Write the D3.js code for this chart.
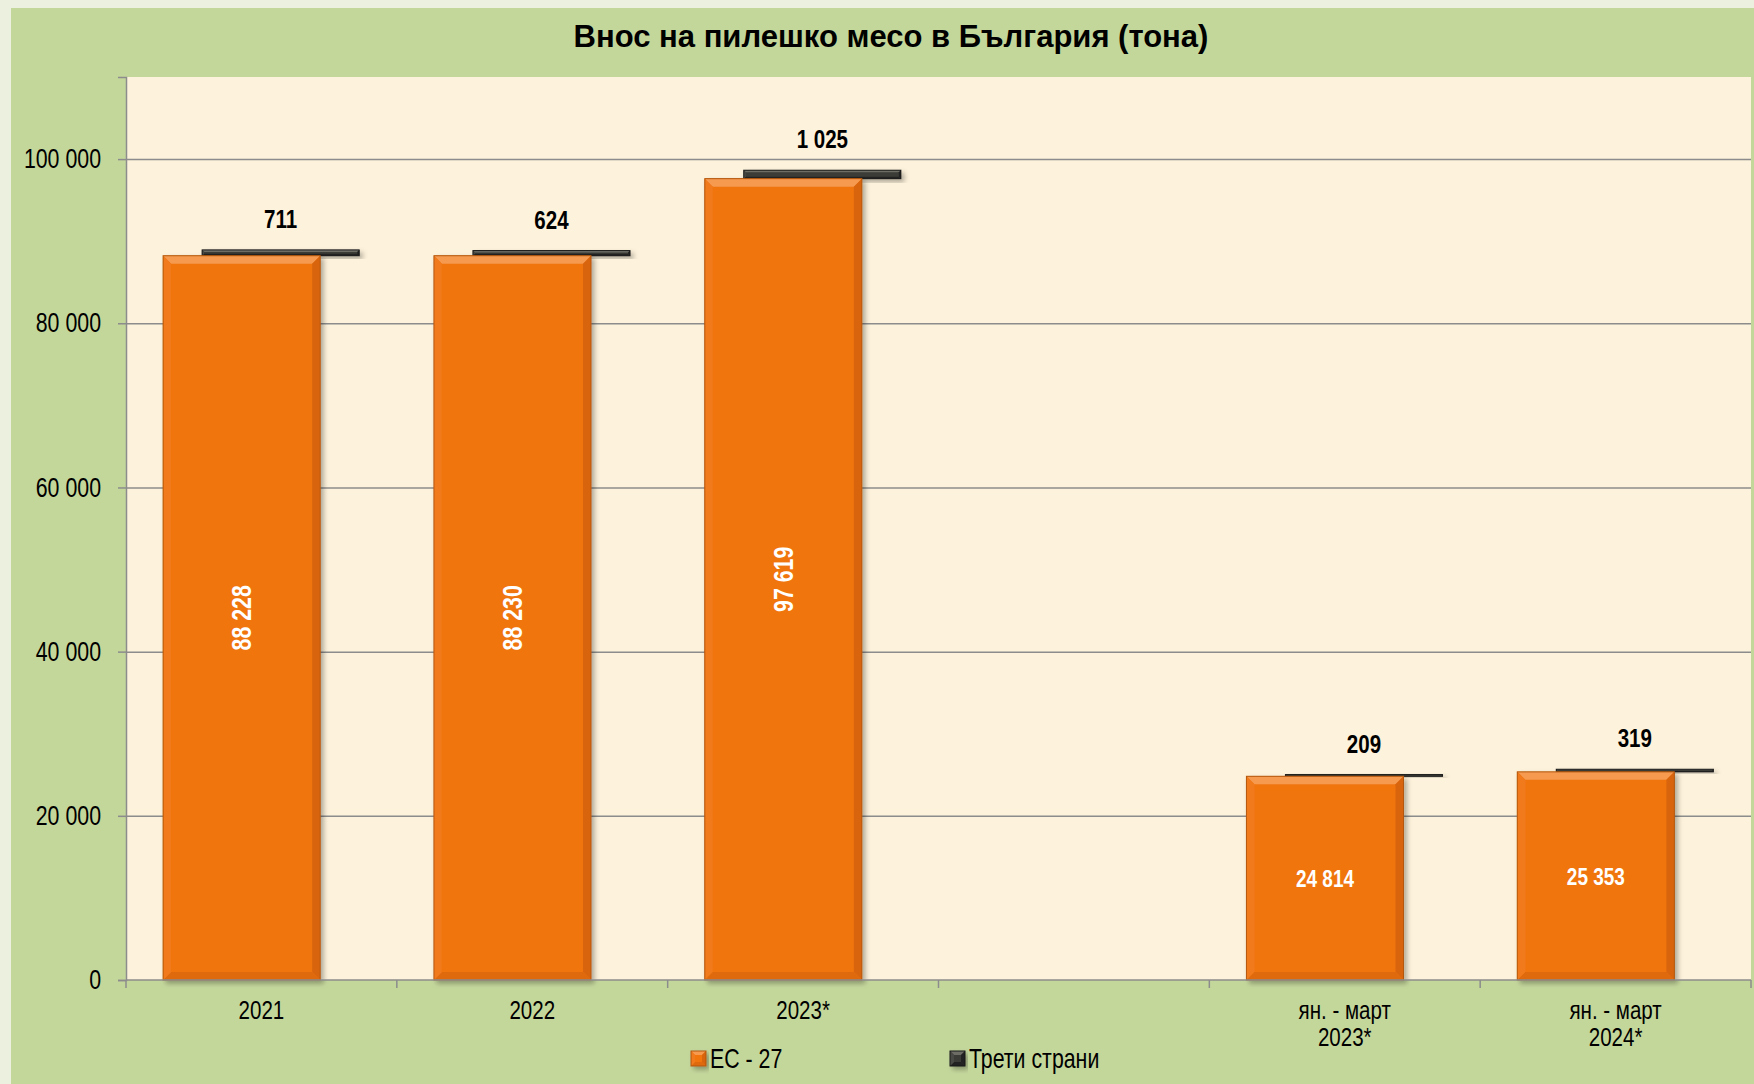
<!DOCTYPE html>
<html lang="bg">
<head>
  <meta charset="UTF-8">
  <title>Внос на пилешко месо в България</title>
  <style>
    body { margin: 0; padding: 0; background: #ebf1de; }
    svg { display: block; font-family: "Liberation Sans", Arial, sans-serif; }
  </style>
</head>
<body>
  <div id="chart"></div>

  <script src="https://d3js.org/d3.v7.min.js"></script>
  <script>
    // categories (the empty one is the gap in the original chart)
    var categories = ["2021", "2022", "2023*", "", "ян. - март\n2023*", "ян. - март\n2024*"];
    var euValues = [88228, 88230, 97619, null, 24814, 25353];
    var thirdValues = [711, 624, 1025, null, 209, 319];
    var yTicks = [0, 20000, 40000, 60000, 80000, 100000];
    var seriesNames = ["ЕС - 27", "Трети страни"];

    var width = 1754, height = 1084;
    var plot = { left: 126, top: 77, right: 1751, bottom: 980 };
    var NARROW = 0.79; // squeeze Liberation Sans to look like Arial Narrow

    var fmt = d3.formatLocale({ decimal: ",", thousands: " ", grouping: [3], currency: ["", ""] }).format(",");

    var svg = d3.select("#chart").append("svg")
      .attr("width", width)
      .attr("height", height);

    var defs = svg.append("defs");
    var shadow = defs.append("filter").attr("id", "shadow")
      .attr("x", "-20%").attr("y", "-50%").attr("width", "140%").attr("height", "200%");
    shadow.append("feDropShadow")
      .attr("dx", 3).attr("dy", 3).attr("stdDeviation", 2.5)
      .attr("flood-color", "#000").attr("flood-opacity", 0.3);

    function narrowText(g, x, y, str, size, rotate) {
      return g.append("text")
        .attr("transform", "translate(" + x + "," + y + ")" + (rotate ? " rotate(" + rotate + ")" : "") + " scale(" + NARROW + ",1)")
        .attr("font-size", size)
        .text(str);
    }

    // background panels
    svg.append("rect").attr("width", width).attr("height", height).attr("fill", "#ebf1de");
    svg.append("rect").attr("x", 11).attr("y", 8)
      .attr("width", width - 11).attr("height", height - 8)
      .attr("fill", "#c4d79b");
    svg.append("rect")
      .attr("x", plot.left).attr("y", plot.top)
      .attr("width", plot.right - plot.left).attr("height", plot.bottom - plot.top)
      .attr("fill", "#fdf2db");

    svg.append("text")
      .attr("x", 891).attr("y", 47)
      .attr("text-anchor", "middle")
      .attr("font-weight", "bold")
      .attr("font-size", 31)
      .text("Внос на пилешко месо в България (тона)");

    var x = d3.scaleBand()
      .domain(d3.range(categories.length))
      .range([plot.left, plot.right]);

    var y = d3.scaleLinear()
      .domain([0, 110000])
      .range([plot.bottom, plot.top]);

    // gridlines
    svg.append("g")
      .attr("transform", "translate(" + plot.left + ",0)")
      .call(d3.axisLeft(y).tickValues(yTicks.slice(1)).tickSize(-(plot.right - plot.left)).tickFormat(""))
      .call(function(g) {
        g.select(".domain").remove();
        g.selectAll("line").attr("stroke", "#8c8c8c").attr("stroke-width", 1.5);
      });

    // y axis
    svg.append("g")
      .attr("transform", "translate(" + plot.left + ",0)")
      .call(d3.axisLeft(y).tickValues(yTicks).tickSize(8).tickPadding(17).tickFormat(fmt))
      .call(function(g) {
        g.select(".domain").attr("stroke", "#8c8c8c").attr("stroke-width", 1.5);
        g.selectAll("line").attr("stroke", "#8c8c8c").attr("stroke-width", 1.5);
        g.selectAll("text")
          .attr("font-size", 27).attr("font-family", null).attr("fill", "#000")
          .attr("x", -25 / NARROW)
          .attr("transform", "scale(" + NARROW + ",1)");
      });

    var bw = x.bandwidth();
    var barW = bw * 0.58;
    var shift = bw * 0.144;
    var off = bw * 0.137;

    function bevelBar(g, x0, y0, w, h, c) {
      var b = Math.min(c.bevel, h / 2, w / 2);
      var bar = g.append("g").attr("filter", "url(#shadow)");
      bar.append("rect").attr("x", x0).attr("y", y0).attr("width", w).attr("height", h)
        .attr("fill", c.base);
      var polys = [
        [[x0, y0], [x0 + w, y0], [x0 + w - b, y0 + b], [x0 + b, y0 + b], c.top],
        [[x0 + w, y0], [x0 + w, y0 + h], [x0 + w - b, y0 + h - b], [x0 + w - b, y0 + b], c.right],
        [[x0, y0 + h], [x0 + w, y0 + h], [x0 + w - b, y0 + h - b], [x0 + b, y0 + h - b], c.bottom],
        [[x0, y0], [x0 + b, y0 + b], [x0 + b, y0 + h - b], [x0, y0 + h], c.left]
      ];
      polys.forEach(function(p) {
        bar.append("polygon")
          .attr("points", p.slice(0, 4).map(function(q) { return q.join(","); }).join(" "))
          .attr("fill", p[4]);
      });
      bar.append("rect").attr("x", x0).attr("y", y0).attr("width", w).attr("height", h)
        .attr("fill", "none").attr("stroke", c.stroke).attr("stroke-width", 1);
    }

    var orange = { base: "#f07511", top: "#f59a50", right: "#d8650d", bottom: "#de6a0e", left: "#f07a1a", stroke: "#b4570e", bevel: 8 };
    var dark = { base: "#3b3b37", top: "#6d6d66", right: "#222", bottom: "#222", left: "#4a4a45", stroke: "#1b1b1b", bevel: 2 };

    var bars = svg.append("g");
    categories.forEach(function(c, i) {
      if (euValues[i] == null) return;
      var x0 = x(i) + off;
      var yEu = y(euValues[i]);
      var yTop = y(euValues[i] + thirdValues[i]);
      bevelBar(bars, x0 + shift, yTop, barW, yEu - yTop, dark);
      bevelBar(bars, x0, yEu, barW, plot.bottom - yEu, orange);
    });

    // labels
    var labels = svg.append("g").attr("font-weight", "bold").attr("text-anchor", "middle");
    categories.forEach(function(c, i) {
      if (euValues[i] == null) return;
      var x0 = x(i) + off;
      var yEu = y(euValues[i]);
      var cx = x0 + barW / 2, cy = (yEu + plot.bottom) / 2;
      var tall = euValues[i] > 50000;
      narrowText(labels, cx, cy, fmt(euValues[i]), tall ? 27 : 24, tall ? -90 : 0)
        .attr("fill", "#fff")
        .attr("dy", "0.36em");
      narrowText(labels, x0 + shift + barW / 2, y(euValues[i] + thirdValues[i]) - 22, fmt(thirdValues[i]), 26)
        .attr("fill", "#000");
    });

    // x axis with ticks between categories
    var xAxis = svg.append("g");
    xAxis.append("line")
      .attr("x1", plot.left).attr("x2", plot.right)
      .attr("y1", plot.bottom).attr("y2", plot.bottom)
      .attr("stroke", "#8c8c8c").attr("stroke-width", 1.5);
    var bounds = x.domain().map(function(d) { return x(d); }).concat([plot.right]);
    xAxis.selectAll(".xt").data(bounds).enter().append("line")
      .attr("x1", function(d) { return d; }).attr("x2", function(d) { return d; })
      .attr("y1", plot.bottom).attr("y2", plot.bottom + 8)
      .attr("stroke", "#8c8c8c").attr("stroke-width", 1.5);
    var xLabels = xAxis.append("g").attr("text-anchor", "middle");
    categories.forEach(function(d, i) {
      d.split("\n").forEach(function(line, k) {
        narrowText(xLabels, x(i) + bw / 2, 1019 + k * 27, line, 26);
      });
    });

    // legend
    var legendItems = [
      { name: seriesNames[0], c: orange, x: 691 },
      { name: seriesNames[1], c: dark, x: 950 }
    ];
    var legend = svg.append("g");
    legendItems.forEach(function(d) {
      bevelBar(legend, d.x, 1051, 15, 15, { base: d.c.base, top: d.c.top, right: d.c.right, bottom: d.c.bottom, left: d.c.left, stroke: d.c.stroke, bevel: 4 });
      narrowText(legend, d.x + 19, 1068, d.name, 27);
    });
  </script>
</body>
</html>
